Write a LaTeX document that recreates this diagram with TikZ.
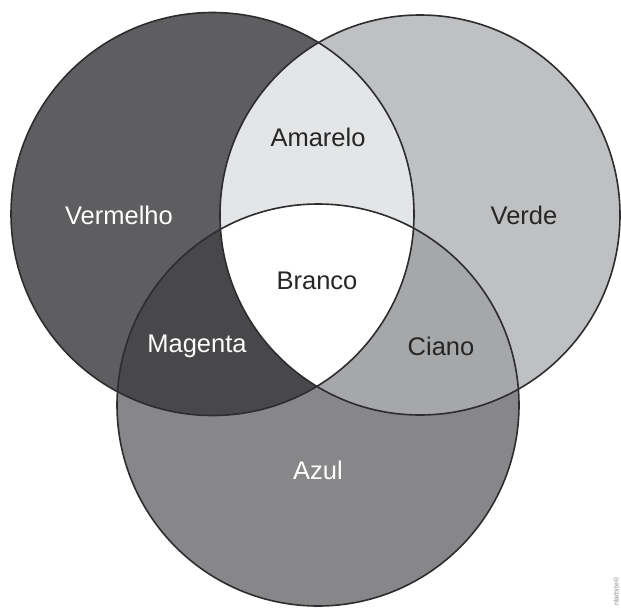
\documentclass[tikz,border=0pt]{standalone}
\usepackage{fontspec}
\setmainfont{Liberation Sans}
\definecolor{cred}{RGB}{94,94,96}
\definecolor{cgreen}{RGB}{191,192,194}
\definecolor{cblue}{RGB}{135,135,137}
\definecolor{cyellow}{RGB}{228,229,231}
\definecolor{cmagenta}{RGB}{72,72,74}
\definecolor{ccyan}{RGB}{166,167,169}
\definecolor{cedge}{RGB}{45,45,47}
\begin{document}
\begin{tikzpicture}[x=1pt,y=-1pt,
  edge/.style={draw=cedge,line width=1.6pt},
  lbl/.style={font=\fontsize{25.5}{30}\selectfont,inner sep=0pt},
  lightlbl/.style={lbl,text=white},
  darklbl/.style={lbl,text=black!85}]
\useasboundingbox (0,0) rectangle (621,608);
\fill[white] (0,0) rectangle (621,608);
\coordinate (R) at (212.5,214);
\coordinate (G) at (420,215);
\coordinate (B) at (318,405);
\def\rR{201.5pt}
\def\rG{200pt}
\def\rB{201pt}
% base circles
\fill[cred] (R) circle (\rR);
\fill[cgreen] (G) circle (\rG);
\fill[cblue] (B) circle (\rB);
% pairwise overlaps
\begin{scope}
  \clip (R) circle (\rR);
  \fill[cyellow] (G) circle (\rG);
\end{scope}
\begin{scope}
  \clip (R) circle (\rR);
  \fill[cmagenta] (B) circle (\rB);
\end{scope}
\begin{scope}
  \clip (G) circle (\rG);
  \fill[ccyan] (B) circle (\rB);
\end{scope}
\begin{scope}
  \clip (R) circle (\rR);
  \clip (G) circle (\rG);
  \fill[white] (B) circle (\rB);
\end{scope}
% outlines
\draw[edge] (R) circle (\rR);
\draw[edge] (G) circle (\rG);
\draw[edge] (B) circle (\rB);
% labels
\node[lightlbl] (vermelho) at (119,215) {Vermelho};
\node[darklbl] (verde) at (524,215) {Verde};
\node[darklbl] (amarelo) at (318,137) {Amarelo};
\node[darklbl] (branco) at (317,281) {Branco};
\node[lightlbl] (magenta) at (197,346) {Magenta};
\node[darklbl] (ciano) at (441,346) {Ciano};
\node[lightlbl] (azul) at (318,470) {Azul};
\node[rotate=90,anchor=west,font=\fontsize{7}{8}\selectfont,text=black!45,inner sep=0pt] (credit) at (616,606) {nlarbite®};
\end{tikzpicture}
\end{document}
